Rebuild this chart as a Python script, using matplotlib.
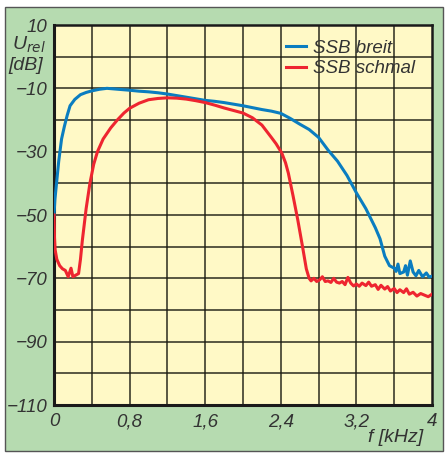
import matplotlib
matplotlib.use("Agg")
import matplotlib.pyplot as plt
from matplotlib.patches import Rectangle

plt.rcParams['font.family'] = ['Liberation Sans Narrow', 'Liberation Sans', 'DejaVu Sans']

# ---- data ----
f_breit = [0.0, 0.01, 0.03, 0.05, 0.065, 0.08, 0.11, 0.14, 0.17, 0.22, 0.28, 0.34, 0.4, 0.48,
           0.56, 0.64, 0.72, 0.8, 0.9, 1.0, 1.1, 1.2, 1.3, 1.4, 1.5, 1.6, 1.7, 1.8, 1.9, 2.0,
           2.1, 2.2, 2.3, 2.4, 2.5, 2.6, 2.7, 2.8, 2.9, 3.0, 3.1, 3.2, 3.3, 3.4, 3.45, 3.5,
           3.55, 3.6, 3.62, 3.64, 3.66, 3.7, 3.72, 3.74, 3.77, 3.8, 3.83, 3.86, 3.9, 3.94,
           3.97, 4.0]
u_breit = [-50, -45, -39, -33, -29.5, -26, -22, -18.5, -15.5, -13.5, -12, -11.3, -10.8, -10.3,
           -10.0, -10.2, -10.4, -10.6, -10.9, -11.1, -11.4, -11.8, -12.3, -12.8, -13.3, -13.8,
           -14.1, -14.5, -15.0, -15.5, -16.1, -16.7, -17.2, -17.9, -19.5, -21.3, -23, -25.5,
           -29.5, -33, -37.5, -43, -48, -54, -57.5, -63, -66, -66.8, -67.8, -65.5, -68.5, -68,
           -66, -69, -64.5, -68, -69.2, -67.5, -69.5, -68.3, -69.6, -69.3]

f_schmal = [0.0, 0.005, 0.012, 0.03, 0.06, 0.09, 0.12, 0.15, 0.18, 0.2, 0.23, 0.26, 0.28, 0.30,
            0.32, 0.34, 0.38, 0.42, 0.46, 0.52, 0.6, 0.67, 0.74, 0.8, 0.9, 1.0, 1.1, 1.2, 1.3,
            1.4, 1.5, 1.6, 1.7, 1.8, 1.9, 2.0, 2.1, 2.2, 2.3, 2.35, 2.41, 2.45, 2.48, 2.53,
            2.58, 2.63, 2.67, 2.70, 2.72, 2.75, 2.78, 2.81, 2.84, 2.87, 2.9, 2.93, 2.96, 2.99,
            3.02, 3.05, 3.08, 3.11, 3.14, 3.17, 3.2, 3.23, 3.26, 3.3, 3.33, 3.36, 3.4, 3.43,
            3.46, 3.5, 3.53, 3.56, 3.6, 3.63, 3.66, 3.7, 3.73, 3.76, 3.8, 3.84, 3.88, 3.92,
            3.96, 4.0]
u_schmal = [-50, -57, -61, -64, -66, -67, -67.5, -69.5, -66.8, -69.5, -69, -68.5, -64, -58,
            -53, -48, -40, -34, -30, -26, -22.5, -20, -17.8, -16.3, -14.7, -13.6, -13.2,
            -13.0, -13.1, -13.4, -13.9, -14.5, -15.3, -16.2, -17.0, -17.8, -19.3, -21.6,
            -25.5, -27.5, -30.4, -33.5, -36.8, -44, -51.6, -60, -67, -70, -70.8, -70, -71,
            -70.5, -69.5, -71, -70.8, -71.3, -70, -71.2, -71.5, -71, -72, -69.7, -71.5, -72.4,
            -71.8, -72.5, -71.5, -72.3, -71.2, -72.5, -72, -73.5, -72.2, -73.4, -72.6, -74,
            -73.2, -74.5, -73.6, -74.5, -73.3, -75, -74.4, -75.6, -74.8, -75.3, -75.8, -75]

x_ticks = [0, 0.8, 1.6, 2.4, 3.2, 4]
x_ticklabels = ["0", "0,8", "1,6", "2,4", "3,2", "4"]
y_ticks = [10, -10, -30, -50, -70, -90, -110]
y_ticklabels = ["10", "\u221210", "\u221230", "\u221250", "\u221270", "\u221290", "\u2212110"]
series_names = ["SSB breit", "SSB schmal"]

# ---- style ----
GREEN = '#b6dbb0'
YELLOW = '#fff9c6'
BLUE = '#0a7dc0'
RED = '#ee2530'
TXT = '#333333'

W, H = 448, 453
fig = plt.figure(figsize=(W / 100, H / 100), dpi=100)
fig.patch.set_facecolor('white')
fig.patches.append(Rectangle((5 / W, 1 - 451 / H), 438 / W, 444 / H, transform=fig.transFigure,
                             facecolor=GREEN, edgecolor='#555555', linewidth=1.0, zorder=-5))

ax = fig.add_axes([54 / W, 1 - 405 / H, 378 / W, 380 / H])
ax.set_zorder(1)
ax.set_facecolor(YELLOW)
ax.set_xlim(0, 4)
ax.set_ylim(-110, 10)

# grid
for i in range(1, 10):
    ax.axvline(i * 0.4, color='#1a1a10', lw=1.2, alpha=0.85, zorder=1)
for v in range(-100, 10, 10):
    ax.axhline(v, color='#1a1a10', lw=1.2, alpha=0.85, zorder=1)

ax.plot(f_breit, u_breit, color=BLUE, lw=2.2, zorder=3, solid_joinstyle='round', label=series_names[0])
ax.plot(f_schmal, u_schmal, color=RED, lw=2.2, zorder=3, solid_joinstyle='round', label=series_names[1])

for s in ax.spines.values():
    s.set_color('#1a1a1a')
ax.spines['left'].set_linewidth(2.2)
ax.spines['bottom'].set_linewidth(2.2)
ax.spines['top'].set_linewidth(1.8)
ax.spines['right'].set_linewidth(1.8)

ax.set_xticks(x_ticks)
ax.set_xticklabels(x_ticklabels)
ax.set_yticks(y_ticks)
ax.set_yticklabels(y_ticklabels)
ax.tick_params(axis='y', length=0, labelsize=13.5, colors=TXT, pad=5)
ax.tick_params(axis='x', length=0, labelsize=13.5, colors=TXT, pad=6)
for lab in ax.get_xticklabels() + ax.get_yticklabels():
    lab.set_style('italic')
    lab.set_color(TXT)

fig.text(12 / W, 1 - 45 / H, "U$_{rel}$", fontsize=14, style='italic', color=TXT, va='center', ha='left')
fig.text(8 / W, 1 - 66 / H, "[dB]", fontsize=14, style='italic', color=TXT, va='center', ha='left')
fig.text(396 / W, 1 - 437 / H, "f [kHz]", fontsize=14, style='italic', color=TXT, va='center', ha='center')

leg = ax.legend(loc='upper right', bbox_to_anchor=(0.955, 0.962), frameon=False, fontsize=13.5,
                handlelength=1.1, handletextpad=0.35, labelspacing=0.2, borderpad=0,
                borderaxespad=0)
for t in leg.get_texts():
    t.set_style('italic')
    t.set_color(TXT)

fig.savefig('out.png', dpi=100)
